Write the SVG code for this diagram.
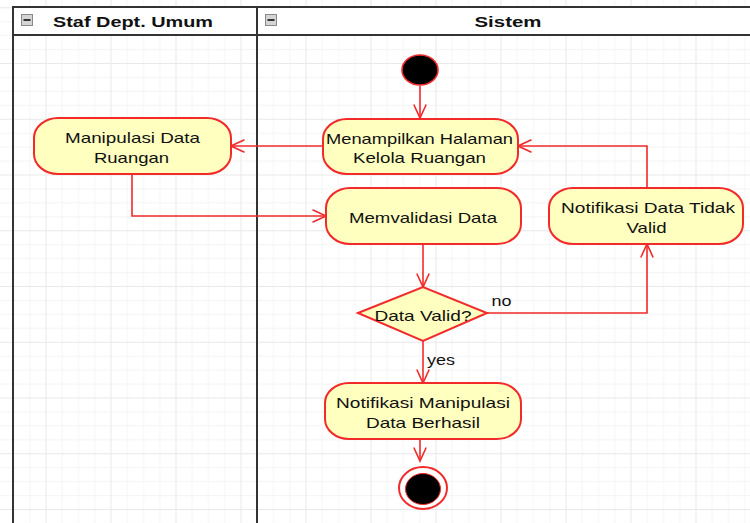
<svg xmlns="http://www.w3.org/2000/svg" width="750" height="523" viewBox="0 0 750 523">
  <style>
    .lbl { font-family: "Liberation Sans", Arial, sans-serif; font-size: 14.5px; fill: #111; }
    .hdr { font-family: "Liberation Sans", Arial, sans-serif; font-size: 15px; font-weight: bold; fill: #111; }
    .act { fill: #ffffc0; stroke: #f22a2a; stroke-width: 2; }
    .flow { fill: none; stroke: #f22a2a; stroke-width: 1.6; marker-end: url(#open); }
    .frame { stroke: #333; stroke-width: 2; fill: none; }
  </style>
  <defs>
    <pattern id="grid" patternUnits="userSpaceOnUse" x="45.5" y="7.25" width="65" height="55.75">
      <rect width="65" height="55.75" fill="#fff"/>
      <g fill="#f5f5f5">
        <rect x="16.25" y="0" width="1" height="55.75"/>
        <rect x="32.5" y="0" width="1" height="55.75"/>
        <rect x="48.75" y="0" width="1" height="55.75"/>
        <rect x="0" y="13.94" width="65" height="1"/>
        <rect x="0" y="27.87" width="65" height="1"/>
        <rect x="0" y="41.81" width="65" height="1"/>
      </g>
      <g fill="#e9e9e9">
        <rect x="0" y="0" width="1" height="55.75"/>
        <rect x="0" y="0" width="65" height="1"/>
      </g>
    </pattern>
    <marker id="open" viewBox="0 0 16 14" markerWidth="16" markerHeight="14" refX="14.5" refY="7" orient="auto" markerUnits="userSpaceOnUse">
      <path d="M1,0.8 L14.5,7 L1,13.2" fill="none" stroke="#f22a2a" stroke-width="1.6"/>
    </marker>
    <g id="collapse">
      <rect x="0.5" y="0.5" width="11" height="11" fill="#d4d4d4" stroke="#8a8a8a"/>
      <rect x="2.5" y="5" width="7" height="2" fill="#333"/>
    </g>
  </defs>

  <!-- background grid -->
  <rect width="750" height="523" fill="url(#grid)"/>

  <!-- swimlane frame -->
  <g id="lanes">
    <rect x="13" y="7" width="737" height="28" fill="#fff"/>
    <line class="frame" x1="13" y1="7" x2="750" y2="7"/>
    <line class="frame" x1="13" y1="35" x2="750" y2="35"/>
    <line class="frame" x1="13" y1="6" x2="13" y2="523"/>
    <line class="frame" x1="257" y1="6" x2="257" y2="523"/>
    <use href="#collapse" x="21" y="14"/>
    <use href="#collapse" x="265" y="14"/>
    <text class="hdr" x="133" y="27" text-anchor="middle" textLength="160" lengthAdjust="spacingAndGlyphs">Staf Dept. Umum</text>
    <text class="hdr" x="508" y="27" text-anchor="middle" textLength="67" lengthAdjust="spacingAndGlyphs">Sistem</text>
  </g>

  <!-- control flows -->
  <g id="connectors">
    <path class="flow" d="M420,86 V118"/>
    <path class="flow" d="M323,146 H231"/>
    <path class="flow" d="M132,174 V216 H326"/>
    <path class="flow" d="M423,244 V287"/>
    <path class="flow" d="M487,313 H647 V244"/>
    <path class="flow" d="M647,188 V146 H518"/>
    <path class="flow" d="M423,341 V383"/>
    <path class="flow" d="M420,439 V461"/>
    <text class="lbl" x="501.5" y="306" text-anchor="middle" textLength="20" lengthAdjust="spacingAndGlyphs">no</text>
    <text class="lbl" x="427" y="365" textLength="28" lengthAdjust="spacingAndGlyphs">yes</text>
  </g>

  <!-- nodes -->
  <g id="start">
    <ellipse cx="420" cy="70" rx="18" ry="15" fill="#000" stroke="#f22a2a" stroke-width="1.6"/>
  </g>

  <g id="menampilkan-halaman">
    <rect class="act" x="323" y="119" width="195" height="55" rx="24" ry="20"/>
    <text class="lbl" x="419.5" y="144" text-anchor="middle" textLength="187" lengthAdjust="spacingAndGlyphs">Menampilkan Halaman</text>
    <text class="lbl" x="419.5" y="163" text-anchor="middle" textLength="133" lengthAdjust="spacingAndGlyphs">Kelola Ruangan</text>
  </g>

  <g id="manipulasi-data">
    <rect class="act" x="34" y="118" width="197" height="56" rx="24" ry="20"/>
    <text class="lbl" x="132.5" y="143" text-anchor="middle" textLength="135" lengthAdjust="spacingAndGlyphs">Manipulasi Data</text>
    <text class="lbl" x="131.5" y="163" text-anchor="middle" textLength="75" lengthAdjust="spacingAndGlyphs">Ruangan</text>
  </g>

  <g id="memvalidasi-data">
    <rect class="act" x="326" y="188" width="195" height="56" rx="24" ry="20"/>
    <text class="lbl" x="423" y="223" text-anchor="middle" textLength="148" lengthAdjust="spacingAndGlyphs">Memvalidasi Data</text>
  </g>

  <g id="notifikasi-tidak-valid">
    <rect class="act" x="549" y="188" width="194" height="56" rx="24" ry="20"/>
    <text class="lbl" x="648" y="213" text-anchor="middle" textLength="174" lengthAdjust="spacingAndGlyphs">Notifikasi Data Tidak</text>
    <text class="lbl" x="646.5" y="233" text-anchor="middle" textLength="40" lengthAdjust="spacingAndGlyphs">Valid</text>
  </g>

  <g id="data-valid">
    <polygon class="act" points="358,313 423,287 487,313 423,341"/>
    <text class="lbl" x="423" y="320.5" text-anchor="middle" textLength="97" lengthAdjust="spacingAndGlyphs">Data Valid?</text>
  </g>

  <g id="notifikasi-berhasil">
    <rect class="act" x="325" y="383" width="196" height="56" rx="24" ry="20"/>
    <text class="lbl" x="423" y="408" text-anchor="middle" textLength="174" lengthAdjust="spacingAndGlyphs">Notifikasi Manipulasi</text>
    <text class="lbl" x="423" y="427.5" text-anchor="middle" textLength="114" lengthAdjust="spacingAndGlyphs">Data Berhasil</text>
  </g>

  <g id="end">
    <ellipse cx="423" cy="488" rx="24" ry="21" fill="#fff" stroke="#f22a2a" stroke-width="2"/>
    <ellipse cx="423" cy="489" rx="17.5" ry="15.5" fill="#000" stroke="#f22a2a" stroke-width="1"/>
  </g>
</svg>
